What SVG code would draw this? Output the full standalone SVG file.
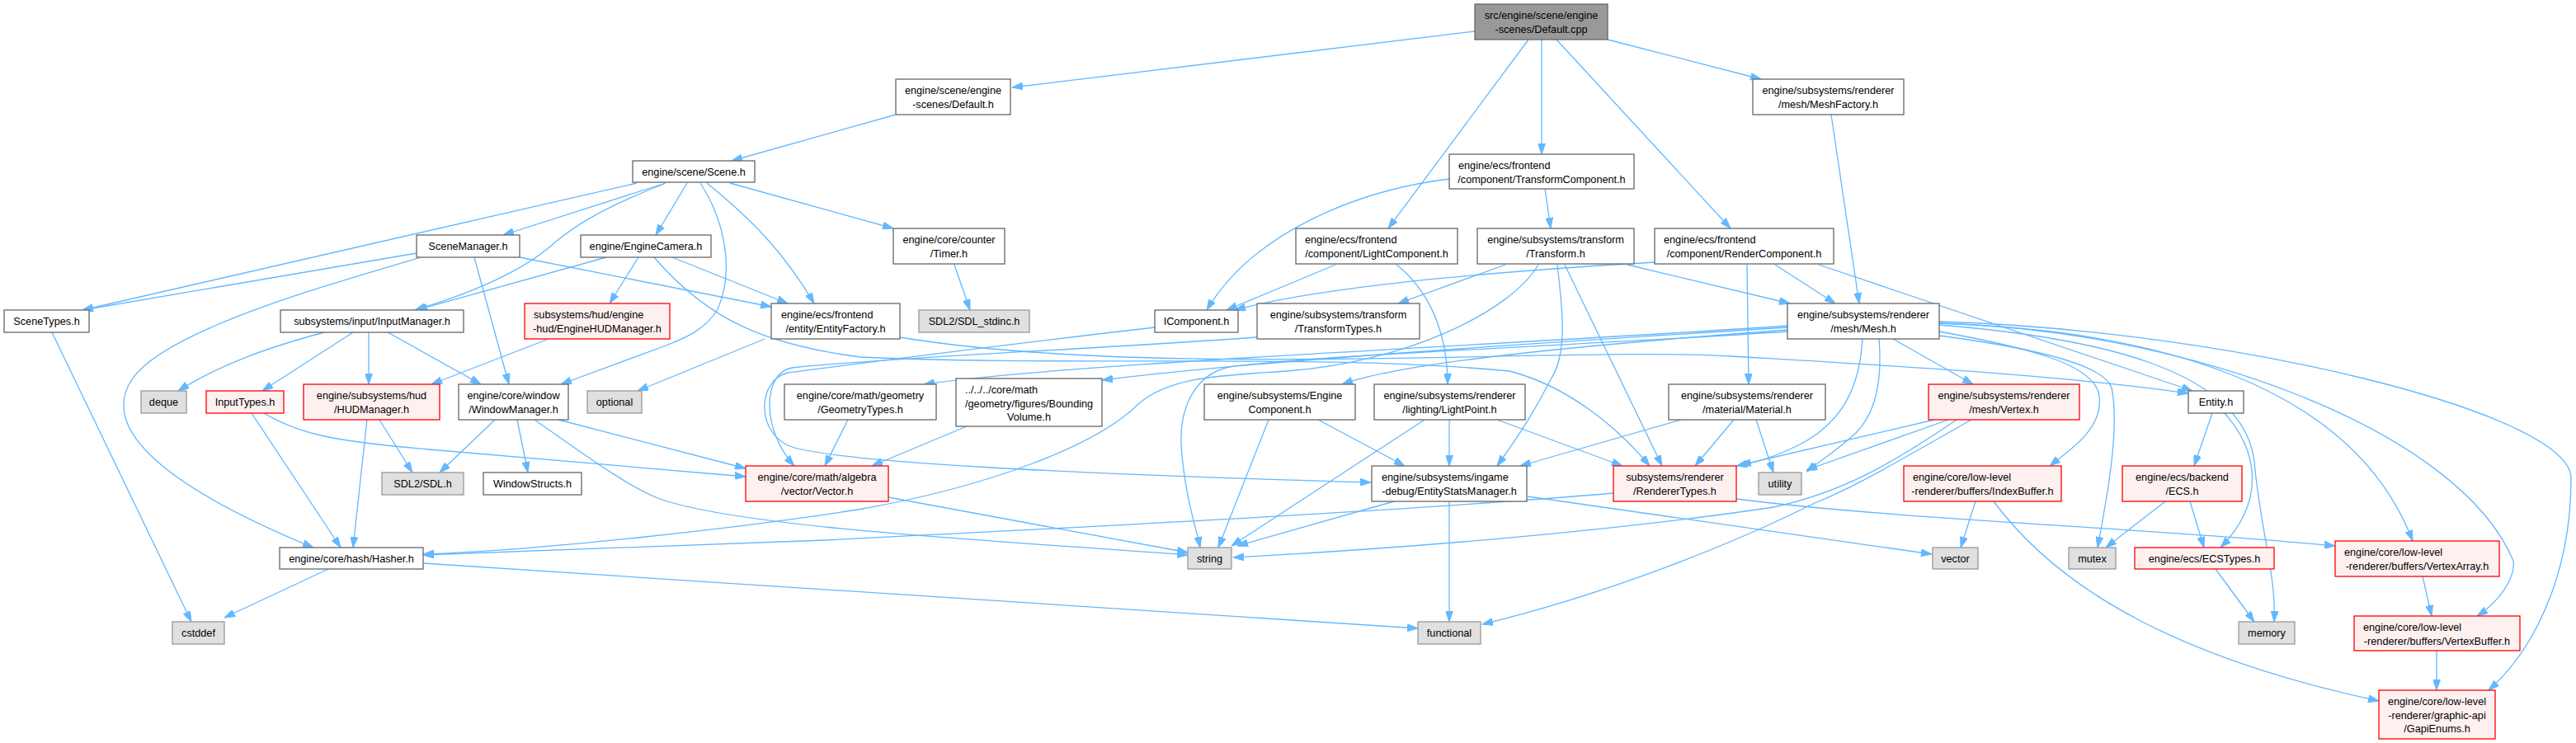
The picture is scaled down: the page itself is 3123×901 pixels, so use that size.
<svg xmlns="http://www.w3.org/2000/svg" width="3123" height="901" viewBox="0 0 3123 901">
<defs>
<marker id="ah" markerWidth="13" markerHeight="9" refX="13" refY="4.5" orient="auto" markerUnits="userSpaceOnUse"><path d="M0,0 L13,4.5 L0,9 z" fill="#63B8FF" stroke="#63B8FF" stroke-width="1"/></marker>
</defs>
<style>
.n rect{fill:#FFFFFF;stroke:#666666;stroke-width:1.3}
.g rect{fill:#E0E0E0;stroke:#999999;stroke-width:1.3}
.r rect{fill:#FFF0F0;stroke:#FF0000;stroke-width:1.3}
.root rect{fill:#999999;stroke:#666666;stroke-width:1.3}
text{font-family:"Liberation Sans",Arial,sans-serif;font-size:12.7px;fill:#000000}
.c{text-anchor:middle}
#edges path{fill:none;stroke:#63B8FF;stroke-width:1.3;marker-end:url(#ah)}
</style>
<rect width="3123" height="901" fill="#FFFFFF"/>
<g id="edges">
<path d="M1788,38 L1227,106"/>
<path d="M1949,48 L2135,96"/>
<path d="M1869,48 L1869,187"/>
<path d="M1853,48 L1683,277"/>
<path d="M1887,48 L2098,277"/>
<path d="M1086,139 L887,195"/>
<path d="M2220,139 L2254,368"/>
<path d="M772,222 L100,376"/>
<path d="M807,222 L610,285"/>
<path d="M805,223 C720,256 690,280 675,292 C645,320 590,350 503,376"/>
<path d="M833,222 L795,285"/>
<path d="M849,222 C880,270 890,330 870,375 C855,400 830,410 810,418 L680,466"/>
<path d="M857,222 C910,265 950,305 987,368"/>
<path d="M885,222 L1083,277"/>
<path d="M505,307 L100,376"/>
<path d="M510,312 C400,345 200,400 160,460 C120,520 200,590 380,664"/>
<path d="M575,312 L617,466"/>
<path d="M630,312 L935,372"/>
<path d="M735,312 L505,376"/>
<path d="M774,312 L739,368"/>
<path d="M815,312 L955,368"/>
<path d="M793,312 C860,390 930,418 1043,433 C1300,445 1600,428 1830,450 C1900,468 1960,517 2000,565"/>
<path d="M1157,321 L1176,376"/>
<path d="M393,403 C330,420 270,440 216,474"/>
<path d="M428,403 L318,474"/>
<path d="M447,403 L447,466"/>
<path d="M470,403 L583,466"/>
<path d="M665,411 L523,466"/>
<path d="M927,411 L773,474"/>
<path d="M1091,409 C1400,460 1900,420 2100,432 C2300,444 2500,455 2653,477"/>
<path d="M445,509 L428,664"/>
<path d="M460,509 L500,573"/>
<path d="M600,509 L533,573"/>
<path d="M627,509 L640,573"/>
<path d="M648,509 C700,545 760,590 800,605 C900,640 1200,655 1440,673"/>
<path d="M677,509 L904,568"/>
<path d="M320,501 C360,525 400,535 520,545 L904,578"/>
<path d="M305,501 L413,664"/>
<path d="M1757,217 C1650,230 1520,280 1463,376"/>
<path d="M1873,229 L1880,277"/>
<path d="M1619,321 L1487,376"/>
<path d="M1693,321 C1730,350 1755,400 1755,466"/>
<path d="M2006,318 C1800,330 1600,348 1497,376"/>
<path d="M2152,321 L2225,368"/>
<path d="M2118,321 L2120,466"/>
<path d="M2205,321 L2658,474"/>
<path d="M1825,321 L1695,368"/>
<path d="M1888,321 C1895,380 1900,430 1880,460 C1860,500 1840,530 1815,565"/>
<path d="M1865,321 C1830,380 1700,440 1560,450 C1490,455 1420,455 1380,490 C1330,540 1200,590 1040,618 C900,640 650,668 513,672"/>
<path d="M2167,402 C1900,420 1600,430 1490,445 C1445,455 1430,500 1432,540 C1436,600 1450,640 1455,664"/>
<path d="M1897,321 L2015,565"/>
<path d="M1973,321 L2170,368"/>
<path d="M2295,411 L2392,466"/>
<path d="M2351,402 C2450,420 2540,440 2545,480 C2550,520 2510,545 2485,565"/>
<path d="M2351,407 C2450,420 2550,440 2560,470 C2570,520 2555,600 2543,664"/>
<path d="M2278,411 C2282,460 2275,500 2250,525 C2225,548 2205,560 2190,572"/>
<path d="M2258,411 C2255,460 2240,510 2180,540 C2150,555 2130,560 2105,565"/>
<path d="M2351,392 C2600,400 2850,460 2925,656"/>
<path d="M2351,392 C2650,400 2980,520 3047,680 C3050,700 3030,730 3003,747"/>
<path d="M2351,390 C2700,400 3117,500 3117,580 C3117,700 3070,790 3017,837"/>
<path d="M2351,394 C2550,410 2720,450 2733,560 C2740,640 2760,700 2757,754"/>
<path d="M2417,608 C2500,720 2650,800 2884,850"/>
<path d="M2395,608 L2377,664"/>
<path d="M2937,699 L2948,747"/>
<path d="M2954,789 L2954,837"/>
<path d="M1852,602 L2342,672"/>
<path d="M1690,608 L1500,662"/>
<path d="M1757,608 L1757,754"/>
<path d="M2390,509 C2300,560 2250,590 2200,610 C2100,660 1950,720 1797,757"/>
<path d="M2372,509 C2290,565 2230,598 2150,615 C1950,645 1700,665 1495,676"/>
<path d="M2345,509 L2110,564"/>
<path d="M2362,509 L2190,570"/>
<path d="M513,683 L1719,762"/>
<path d="M398,690 L272,749"/>
<path d="M63,403 L232,754"/>
<path d="M2682,501 L2660,565"/>
<path d="M2697,501 C2740,550 2745,610 2692,664"/>
<path d="M2655,608 L2672,664"/>
<path d="M2625,608 L2553,664"/>
<path d="M2686,690 L2733,754"/>
<path d="M2105,605 C2300,630 2600,640 2831,662"/>
<path d="M1956,598 C1700,620 1300,640 1000,655 L513,673"/>
<path d="M2102,509 L2055,565"/>
<path d="M2129,509 L2150,573"/>
<path d="M2038,509 L1843,565"/>
<path d="M1757,509 L1757,565"/>
<path d="M1815,509 L1967,565"/>
<path d="M1727,509 L1493,662"/>
<path d="M1598,509 L1703,565"/>
<path d="M1538,509 L1477,664"/>
<path d="M1028,509 L1000,565"/>
<path d="M1172,517 L1057,565"/>
<path d="M1077,603 L1440,670"/>
<path d="M1524,409 C1300,425 1100,432 960,446 C925,452 922,520 963,565"/>
<path d="M1400,397 C1200,420 1080,436 955,452 C920,460 915,520 955,540 C1000,560 1300,575 1662,585"/>
<path d="M2167,395 C1800,420 1300,440 1120,466"/>
<path d="M2167,397 C1800,420 1500,440 1336,461"/>
<path d="M2167,400 C1900,420 1700,440 1627,466"/>
</g>
<g id="n1" class="root"><rect x="1788" y="5" width="161" height="43"/><text class="c" x="1868.5" y="23">src/engine/scene/engine</text><text class="c" x="1868.5" y="39.5">-scenes/Default.cpp</text></g>
<g id="n2" class="n"><rect x="1086" y="96" width="139" height="43"/><text class="c" x="1155.5" y="114">engine/scene/engine</text><text class="c" x="1155.5" y="130.5">-scenes/Default.h</text></g>
<g id="n3" class="n"><rect x="2125" y="96" width="183" height="43"/><text class="c" x="2216.5" y="114">engine/subsystems/renderer</text><text class="c" x="2216.5" y="130.5">/mesh/MeshFactory.h</text></g>
<g id="n4" class="n"><rect x="767" y="195" width="148" height="26"/><text class="c" x="841" y="213">engine/scene/Scene.h</text></g>
<g id="n5" class="n"><rect x="1757" y="187" width="224" height="42"/><text x="1768" y="205">engine/ecs/frontend</text><text class="c" x="1869" y="221.5">/component/TransformComponent.h</text></g>
<g id="n6" class="n"><rect x="1571" y="277" width="196" height="43"/><text x="1582" y="295">engine/ecs/frontend</text><text class="c" x="1669" y="311.5">/component/LightComponent.h</text></g>
<g id="n7" class="n"><rect x="1791" y="277" width="190" height="43"/><text class="c" x="1886" y="295">engine/subsystems/transform</text><text class="c" x="1886" y="311.5">/Transform.h</text></g>
<g id="n8" class="n"><rect x="2006" y="277" width="217" height="43"/><text x="2017" y="295">engine/ecs/frontend</text><text class="c" x="2114.5" y="311.5">/component/RenderComponent.h</text></g>
<g id="n9" class="n"><rect x="505" y="285" width="125" height="27"/><text class="c" x="567.5" y="303">SceneManager.h</text></g>
<g id="n10" class="n"><rect x="704" y="285" width="158" height="27"/><text class="c" x="783" y="303">engine/EngineCamera.h</text></g>
<g id="n11" class="n"><rect x="1083" y="277" width="135" height="43"/><text class="c" x="1150.5" y="295">engine/core/counter</text><text class="c" x="1150.5" y="311.5">/Timer.h</text></g>
<g id="n12" class="n"><rect x="5" y="376" width="103" height="27"/><text class="c" x="56.5" y="394">SceneTypes.h</text></g>
<g id="n13" class="n"><rect x="340" y="376" width="222" height="27"/><text class="c" x="451" y="394">subsystems/input/InputManager.h</text></g>
<g id="n14" class="r"><rect x="636" y="368" width="176" height="43"/><text x="647" y="386">subsystems/hud/engine</text><text class="c" x="724" y="402.5">-hud/EngineHUDManager.h</text></g>
<g id="n15" class="n"><rect x="935" y="368" width="156" height="43"/><text x="947" y="386">engine/ecs/frontend</text><text class="c" x="1013" y="402.5">/entity/EntityFactory.h</text></g>
<g id="n16" class="g"><rect x="1114" y="376" width="134" height="27"/><text class="c" x="1181" y="394">SDL2/SDL_stdinc.h</text></g>
<g id="n17" class="n"><rect x="1400" y="376" width="101" height="27"/><text class="c" x="1450.5" y="394">IComponent.h</text></g>
<g id="n18" class="n"><rect x="1524" y="368" width="197" height="43"/><text class="c" x="1622.5" y="386">engine/subsystems/transform</text><text class="c" x="1622.5" y="402.5">/TransformTypes.h</text></g>
<g id="n19" class="n"><rect x="2167" y="368" width="184" height="43"/><text class="c" x="2259" y="386">engine/subsystems/renderer</text><text class="c" x="2259" y="402.5">/mesh/Mesh.h</text></g>
<g id="n20" class="g"><rect x="171" y="474" width="55" height="27"/><text class="c" x="198.5" y="492">deque</text></g>
<g id="n21" class="r"><rect x="250" y="474" width="94" height="27"/><text class="c" x="297" y="492">InputTypes.h</text></g>
<g id="n22" class="r"><rect x="368" y="466" width="165" height="43"/><text class="c" x="450.5" y="484">engine/subsystems/hud</text><text class="c" x="450.5" y="500.5">/HUDManager.h</text></g>
<g id="n23" class="n"><rect x="556" y="466" width="133" height="43"/><text class="c" x="622.5" y="484">engine/core/window</text><text class="c" x="622.5" y="500.5">/WindowManager.h</text></g>
<g id="n24" class="g"><rect x="712" y="474" width="66" height="27"/><text class="c" x="745" y="492">optional</text></g>
<g id="n25" class="n"><rect x="951" y="466" width="184" height="43"/><text class="c" x="1043" y="484">engine/core/math/geometry</text><text class="c" x="1043" y="500.5">/GeometryTypes.h</text></g>
<g id="n26" class="n"><rect x="1159" y="459" width="177" height="58"/><text x="1170" y="477">../../../core/math</text><text x="1170" y="493.5">/geometry/figures/Bounding</text><text class="c" x="1247.5" y="510">Volume.h</text></g>
<g id="n27" class="n"><rect x="1460" y="466" width="183" height="43"/><text class="c" x="1551.5" y="484">engine/subsystems/Engine</text><text class="c" x="1551.5" y="500.5">Component.h</text></g>
<g id="n28" class="n"><rect x="1666" y="466" width="183" height="43"/><text class="c" x="1757.5" y="484">engine/subsystems/renderer</text><text class="c" x="1757.5" y="500.5">/lighting/LightPoint.h</text></g>
<g id="n29" class="n"><rect x="2023" y="466" width="190" height="43"/><text class="c" x="2118" y="484">engine/subsystems/renderer</text><text class="c" x="2118" y="500.5">/material/Material.h</text></g>
<g id="n30" class="r"><rect x="2338" y="466" width="183" height="43"/><text class="c" x="2429.5" y="484">engine/subsystems/renderer</text><text class="c" x="2429.5" y="500.5">/mesh/Vertex.h</text></g>
<g id="n31" class="n"><rect x="2653" y="474" width="67" height="27"/><text class="c" x="2686.5" y="492">Entity.h</text></g>
<g id="n32" class="r"><rect x="904" y="565" width="173" height="43"/><text class="c" x="990.5" y="583">engine/core/math/algebra</text><text class="c" x="990.5" y="599.5">/vector/Vector.h</text></g>
<g id="n33" class="g"><rect x="463" y="573" width="99" height="27"/><text class="c" x="512.5" y="591">SDL2/SDL.h</text></g>
<g id="n34" class="n"><rect x="586" y="573" width="119" height="27"/><text class="c" x="645.5" y="591">WindowStructs.h</text></g>
<g id="n35" class="n"><rect x="1663" y="565" width="188" height="43"/><text x="1675" y="583">engine/subsystems/ingame</text><text class="c" x="1757" y="599.5">-debug/EntityStatsManager.h</text></g>
<g id="n36" class="r"><rect x="1956" y="565" width="149" height="43"/><text class="c" x="2030.5" y="583">subsystems/renderer</text><text class="c" x="2030.5" y="599.5">/RendererTypes.h</text></g>
<g id="n37" class="g"><rect x="2132" y="573" width="52" height="27"/><text class="c" x="2158" y="591">utility</text></g>
<g id="n38" class="r"><rect x="2308" y="565" width="191" height="43"/><text x="2319" y="583">engine/core/low-level</text><text class="c" x="2403.5" y="599.5">-renderer/buffers/IndexBuffer.h</text></g>
<g id="n39" class="r"><rect x="2573" y="565" width="145" height="43"/><text class="c" x="2645.5" y="583">engine/ecs/backend</text><text class="c" x="2645.5" y="599.5">/ECS.h</text></g>
<g id="n40" class="n"><rect x="339" y="664" width="174" height="26"/><text class="c" x="426" y="682">engine/core/hash/Hasher.h</text></g>
<g id="n41" class="g"><rect x="1440" y="664" width="53" height="26"/><text class="c" x="1466.5" y="682">string</text></g>
<g id="n42" class="g"><rect x="2343" y="664" width="55" height="26"/><text class="c" x="2370.5" y="682">vector</text></g>
<g id="n43" class="g"><rect x="2508" y="664" width="57" height="26"/><text class="c" x="2536.5" y="682">mutex</text></g>
<g id="n44" class="r"><rect x="2588" y="664" width="169" height="26"/><text class="c" x="2672.5" y="682">engine/ecs/ECSTypes.h</text></g>
<g id="n45" class="r"><rect x="2831" y="656" width="199" height="43"/><text x="2842" y="674">engine/core/low-level</text><text class="c" x="2930.5" y="690.5">-renderer/buffers/VertexArray.h</text></g>
<g id="n46" class="g"><rect x="209" y="754" width="63" height="27"/><text class="c" x="240.5" y="772">cstddef</text></g>
<g id="n47" class="g"><rect x="1719" y="754" width="76" height="27"/><text class="c" x="1757" y="772">functional</text></g>
<g id="n48" class="g"><rect x="2714" y="754" width="68" height="27"/><text class="c" x="2748" y="772">memory</text></g>
<g id="n49" class="r"><rect x="2854" y="747" width="201" height="42"/><text x="2865" y="765">engine/core/low-level</text><text class="c" x="2954.5" y="781.5">-renderer/buffers/VertexBuffer.h</text></g>
<g id="n50" class="r"><rect x="2884" y="837" width="141" height="59"/><text class="c" x="2954.5" y="855">engine/core/low-level</text><text class="c" x="2954.5" y="871.5">-renderer/graphic-api</text><text class="c" x="2954.5" y="888">/GapiEnums.h</text></g>
</svg>
